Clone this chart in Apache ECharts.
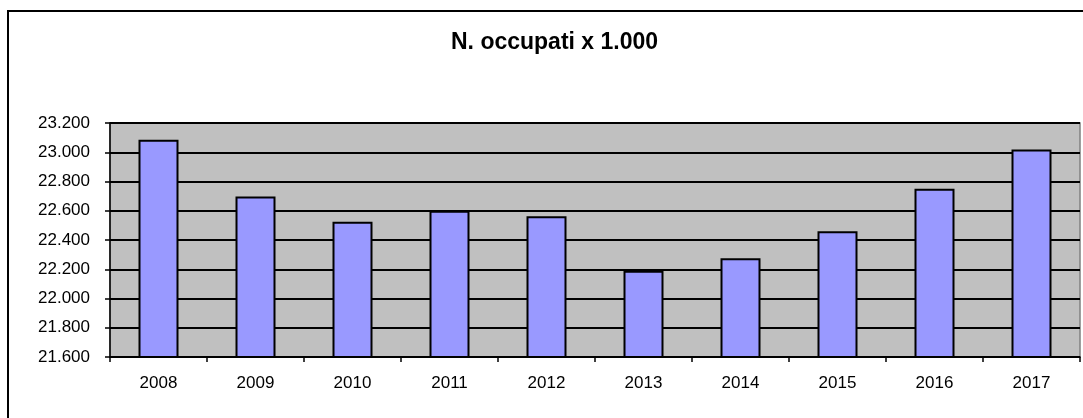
<!DOCTYPE html>
<html>
<head>
<meta charset="utf-8">
<script src="https://cdn.jsdelivr.net/npm/echarts@6/dist/echarts.min.js"></script>
<style>
html,body{margin:0;padding:0;background:#fff;}
#c{width:1083px;height:418px;}
</style>
</head>
<body>
<div id="c"></div>
<script>
const titleText = 'N. occupati x 1.000';
const categories = ['2008','2009','2010','2011','2012','2013','2014','2015','2016','2017'];
const occupati = [23085, 22698, 22525, 22600, 22562, 22190, 22276, 22460, 22750, 23018];
const yMin = 21600, yMax = 23200, yStep = 200;

function fmt(v){ return String(v).replace(/\B(?=(\d{3})+(?!\d))/g, '.'); }

const chart = echarts.init(document.getElementById('c'), null, {renderer:'canvas'});
chart.setOption({
  backgroundColor:'#ffffff',
  animation:false,
  textStyle:{fontFamily:'Liberation Sans, Arial, sans-serif'},
  title:{
    text:titleText,
    left:451, top:31, padding:0,
    textStyle:{fontFamily:'Liberation Sans, Arial, sans-serif', fontWeight:'bold', fontSize:23, color:'#000'}
  },
  graphic:[{
    type:'rect', z:100, silent:true,
    shape:{x:8, y:11, width:2000, height:2000},
    style:{fill:'none', stroke:'#000', lineWidth:2}
  }],
  grid:{left:110, top:123, right:3, bottom:61, show:true, backgroundColor:'#C0C0C0', borderColor:'#808080', borderWidth:1.5},
  xAxis:{
    type:'category', data:categories, boundaryGap:true,
    axisLine:{show:true, lineStyle:{color:'#000', width:1.5}},
    axisTick:{show:true, length:5, alignWithLabel:false, lineStyle:{color:'#000', width:1.5}},
    axisLabel:{color:'#000', fontSize:17, margin:18, fontFamily:'Liberation Sans, Arial, sans-serif'},
    splitLine:{show:false}
  },
  yAxis:{
    type:'value', min:yMin, max:yMax, interval:yStep,
    axisLine:{show:true, lineStyle:{color:'#000', width:1.5}},
    axisTick:{show:true, length:5, lineStyle:{color:'#000', width:1.5}},
    axisLabel:{color:'#000', fontSize:17, margin:20, formatter:fmt, fontFamily:'Liberation Sans, Arial, sans-serif'},
    splitLine:{show:true, lineStyle:{color:'#000', width:2}}
  },
  series:[{
    type:'bar', data:occupati, barWidth:40,
    itemStyle:{color:'#9999FF', borderColor:'#000', borderWidth:2}
  }]
});
</script>
</body>
</html>
